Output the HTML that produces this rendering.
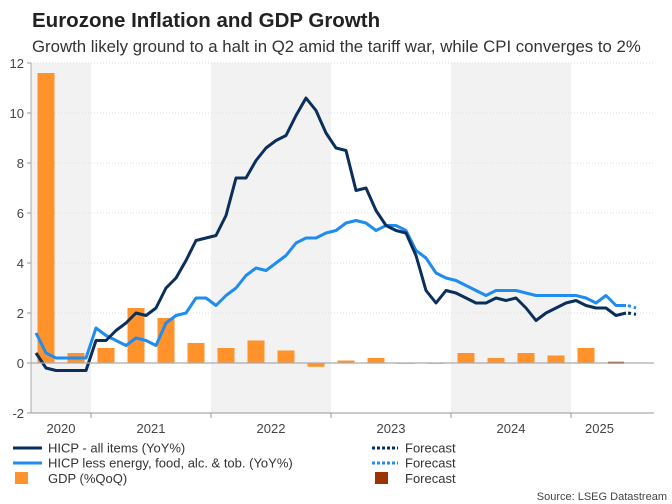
<!DOCTYPE html>
<html><head><meta charset="utf-8">
<style>
body{margin:0;background:#fff;font-family:"Liberation Sans",Arial,sans-serif;}
svg{display:block}
</style></head>
<body>
<svg id="chart" width="672" height="504" viewBox="0 0 672 504">
<text x="32" y="27" font-size="20.5" font-weight="bold" fill="#222">Eurozone Inflation and GDP Growth</text>
<text x="32" y="52" font-size="16.8" fill="#333">Growth likely ground to a halt in Q2 amid the tariff war, while CPI converges to 2%</text>
<g id="bands"></g>
<g id="grid"></g>
<g id="bars"></g>
<g id="lines"></g>
<g id="axes"></g>
<g font-size="13" fill="#333">
 <line x1="13" y1="448" x2="42" y2="448" stroke="#0b2f5c" stroke-width="3"/>
 <text x="48" y="452.5">HICP - all items (YoY%)</text>
 <line x1="13" y1="463" x2="42" y2="463" stroke="#1e8cf0" stroke-width="3"/>
 <text x="48" y="467.5">HICP less energy, food, alc. &amp; tob. (YoY%)</text>
 <rect x="15" y="472" width="13" height="12" fill="#ff922b"/>
 <text x="48" y="483">GDP (%QoQ)</text>
 <line x1="372" y1="448" x2="398" y2="448" stroke="#0b2f5c" stroke-width="3" stroke-dasharray="3,2"/>
 <text x="405" y="452.5">Forecast</text>
 <line x1="372" y1="463" x2="398" y2="463" stroke="#1e8cf0" stroke-width="3" stroke-dasharray="3,2"/>
 <text x="405" y="467.5">Forecast</text>
 <rect x="375" y="472" width="13" height="12" fill="#9c3300"/>
 <text x="405" y="483">Forecast</text>
</g>
<text x="667" y="500" font-size="11" fill="#444" text-anchor="end">Source: LSEG Datastream</text>
</svg>
<script>
const hicp=[0.4,-0.2,-0.3,-0.3,-0.3,-0.3,0.9,0.9,1.3,1.6,2.0,1.9,2.2,3.0,3.4,4.1,4.9,5.0,5.1,5.9,7.4,7.4,8.1,8.6,8.9,9.1,9.9,10.6,10.1,9.2,8.6,8.5,6.9,7.0,6.1,5.5,5.3,5.2,4.3,2.9,2.4,2.9,2.8,2.6,2.4,2.4,2.6,2.5,2.6,2.2,1.7,2.0,2.2,2.4,2.5,2.3,2.2,2.2,1.9,2.0];
const core=[1.2,0.4,0.2,0.2,0.2,0.2,1.4,1.1,0.9,0.7,1.0,0.9,0.7,1.6,1.9,2.0,2.6,2.6,2.3,2.7,3.0,3.5,3.8,3.7,4.0,4.3,4.8,5.0,5.0,5.2,5.3,5.6,5.7,5.6,5.3,5.5,5.5,5.3,4.5,4.2,3.6,3.4,3.3,3.1,2.9,2.7,2.9,2.9,2.9,2.8,2.7,2.7,2.7,2.7,2.7,2.6,2.4,2.7,2.3,2.3];
const hicpForecast=[2.0,1.95];
const coreForecast=[2.3,2.2];
const gdp=[11.6,0.4,0.6,2.2,1.8,0.8,0.6,0.9,0.5,-0.15,0.1,0.2,-0.03,-0.03,0.4,0.2,0.4,0.3,0.6];
const gdpForecast=[0.05];
const yTicks=[-2,0,2,4,6,8,10,12];
const years=["2020","2021","2022","2023","2024","2025"];
const NS="http://www.w3.org/2000/svg";
const X0=31,X1=654,YTOP=63,YBOT=413;
const yS=v=>363-v*25;
const xM=i=>36+i*10;
const xQ=q=>46+q*30;
const yearStart=k=>31+(k-0.5)*120;
function mk(tag,attrs,parent){const e=document.createElementNS(NS,tag);for(const k in attrs)e.setAttribute(k,attrs[k]);parent.appendChild(e);return e;}
const bands=document.getElementById('bands'),grid=document.getElementById('grid'),bars=document.getElementById('bars'),lines=document.getElementById('lines'),axes=document.getElementById('axes');
[0,2,4].forEach(k=>{const a=Math.max(X0,yearStart(k)),b=Math.min(X1,yearStart(k+1));
 const r=mk('rect',{x:a,y:YTOP,width:b-a,height:YBOT-YTOP,fill:'#f2f2f2'},bands);
 
 });
yTicks.forEach(t=>{
 if(t!==0&&t!==-2){const l=mk('line',{x1:X0,x2:X1,y1:yS(t),y2:yS(t),stroke:'#ddd','stroke-dasharray':'1,2'},grid);
 
 }
 const tx=mk('text',{x:24,y:yS(t)+5,'font-size':13,'text-anchor':'end',fill:'#444'},axes);tx.textContent=t;
 
 
 const tk=mk('line',{x1:27,x2:X0,y1:yS(t),y2:yS(t),stroke:'#999'},axes);
 
 
});
gdp.forEach((v,q)=>{const y=Math.min(yS(v),yS(0)),h=Math.max(Math.abs(yS(v)-yS(0)),0.8);
 const r=mk('rect',{x:xQ(q)-8.5,y:y,width:17,height:h,fill:'#ff922b'},bars);
 
 });
gdpForecast.forEach((v,j)=>{const q=gdp.length+j;const y=Math.min(yS(v),yS(0)),h=Math.max(Math.abs(yS(v)-yS(0)),2);
 const r=mk('rect',{x:xQ(q)-8,y:y,width:16,height:h,fill:'#9c3300'},bars);
 
 });
const zl=mk('line',{x1:X0,x2:X1,y1:yS(0),y2:yS(0),stroke:'#aaa','stroke-width':1.3},axes);


function path(arr,off){return arr.map((v,i)=>(i?'L':'M')+xM(i+off).toFixed(1)+','+yS(v).toFixed(1)).join('');}
[[core,'#1e8cf0','core-line'],[hicp,'#0b2f5c','hicp-line']].forEach(([d,c,n])=>{
 const p=mk('path',{d:path(d,0),fill:'none',stroke:c,'stroke-width':3,'stroke-linejoin':'round'},lines);
 
 });
[[coreForecast,'#1e8cf0','core-forecast-line'],[hicpForecast,'#0b2f5c','hicp-forecast-line']].forEach(([d,c,n])=>{
 const p=mk('path',{d:path(d,hicp.length-1).replace(/^M([\d.]+)/,(m,a)=>'M'+(+a+2)),fill:'none',stroke:c,'stroke-width':3,'stroke-dasharray':'3,3'},lines);
 
 });
const ya=mk('line',{x1:X0,x2:X0,y1:YTOP,y2:YBOT,stroke:'#aaa'},axes);


const xa=mk('line',{x1:X0,x2:X1,y1:YBOT,y2:YBOT,stroke:'#aaa','stroke-width':1.3},axes);


years.forEach((y,k)=>{const a=Math.max(X0,yearStart(k)),b=Math.min(X1,yearStart(k+1));
 if(k>0){const t=mk('line',{x1:a,x2:a,y1:YBOT,y2:YBOT+5,stroke:'#999'},axes);
 
 }
 const cx=k===5?(a+628)/2:(a+b)/2;
 const tx=mk('text',{x:cx,y:433,'font-size':13,'text-anchor':'middle',fill:'#444'},axes);tx.textContent=y;
 
 });
</script>
</body></html>
